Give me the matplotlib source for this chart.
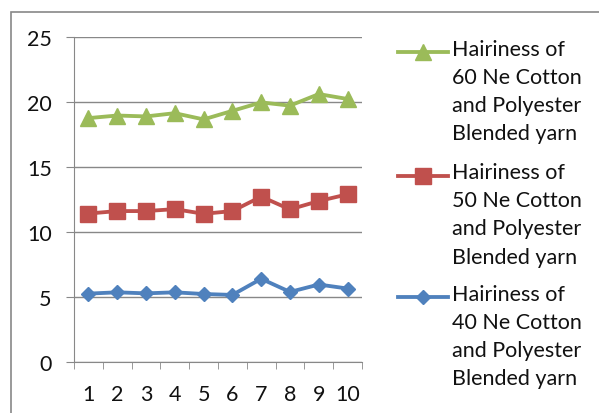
"""
Yarn hairiness comparison line chart.

Writes out.png (about 599x414 px).
"""

import matplotlib.pyplot as plt
from matplotlib.lines import Line2D
from matplotlib.patches import Rectangle

# ---------------------------------------------------------------------------
# Data
# ---------------------------------------------------------------------------

samples = [1, 2, 3, 4, 5, 6, 7, 8, 9, 10]
hair_60ne = [18.76, 18.96, 18.89, 19.14, 18.66, 19.32, 19.97, 19.72, 20.61, 20.23]
hair_50ne = [11.42, 11.61, 11.61, 11.76, 11.40, 11.61, 12.72, 11.74, 12.38, 12.90]
hair_40ne = [5.26, 5.36, 5.28, 5.36, 5.23, 5.16, 6.40, 5.39, 5.96, 5.65]
y_ticks = [0, 5, 10, 15, 20, 25]

labels = [
    "Hairiness of\n60 Ne Cotton\nand Polyester\nBlended yarn",
    "Hairiness of\n50 Ne Cotton\nand Polyester\nBlended yarn",
    "Hairiness of\n40 Ne Cotton\nand Polyester\nBlended yarn",
]

GREEN = "#9BBB59"
RED = "#C0504D"
BLUE = "#4F81BD"
GREY = "#888888"

W, H = 599, 414


def fx(px):
    return px / W


def fy(py):
    return 1 - py / H


plt.rcParams["font.family"] = ["Lato", "DejaVu Sans"]

fig = plt.figure(figsize=(W / 100, H / 100), dpi=100, facecolor="white")

# chart frame (runs off the right and bottom edge)
fig.add_artist(Rectangle((fx(11), fy(440)), fx(640) - fx(11), fy(13) - fy(440),
                         transform=fig.transFigure, fill=False,
                         edgecolor=GREY, linewidth=1.2))

ax = fig.add_axes([fx(74), fy(363), fx(362) - fx(74), fy(38) - fy(363)])

series = [
    (hair_60ne, GREEN, "^", 12),
    (hair_50ne, RED, "s", 11.5),
    (hair_40ne, BLUE, "D", 7.5),
]
for vals, col, mk, ms in series:
    ax.plot(samples, vals, color=col, linewidth=2.75, marker=mk, markersize=ms,
            markerfacecolor=col, markeredgecolor=col, zorder=3, clip_on=False)

ax.set_xlim(0.5, 10.5)
ax.set_ylim(0, 25)
ax.set_yticks(y_ticks)
ax.set_xticks(samples)
ax.set_xticks([s - 0.5 for s in samples] + [10.5], minor=True)
ax.grid(axis="y", color=GREY, linewidth=1)
ax.set_axisbelow(True)

for side in ("top", "right"):
    ax.spines[side].set_visible(False)
for side in ("left", "bottom"):
    ax.spines[side].set_color(GREY)

ax.tick_params(axis="y", length=6, color=GREY, pad=10, labelsize=15.5,
               labelcolor="#111111")
ax.tick_params(axis="x", which="major", length=0, pad=16, labelsize=15.5,
               labelcolor="#111111")
ax.tick_params(axis="x", which="minor", length=5, color=GREY)

# legend drawn by hand so the key sits on the first text line
entry_tops = [53, 176.5, 298]
for (vals, col, mk, ms), lab, yc in zip(series, labels, entry_tops):
    fig.add_artist(Line2D([fx(398), fx(448)], [fy(yc), fy(yc)],
                          transform=fig.transFigure, color=col, linewidth=2.75))
    fig.add_artist(Line2D([fx(423)], [fy(yc)], transform=fig.transFigure,
                          marker=mk, markersize=ms * 0.95, color=col,
                          markeredgecolor=col))
    fig.text(fx(452), fy(yc - 13), lab, ha="left", va="top", fontsize=15.5,
             linespacing=1.5, color="#111111")

fig.savefig("out.png", dpi=100, facecolor="white")
